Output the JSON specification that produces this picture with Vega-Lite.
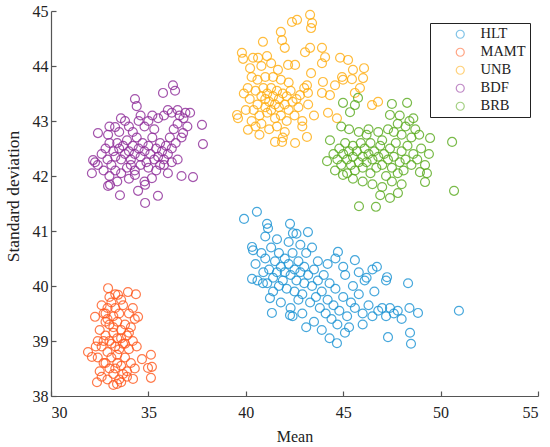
{
"$schema":"https://vega.github.io/schema/vega-lite/v6.json",
"width":487,"height":385,
"autosize":{"type":"none"},
"padding":{"left":51,"top":11,"right":12,"bottom":51},
"background":"white",
"config":{"view":{"stroke":null},
"axis":{"domainColor":"#555","tickColor":"#555","labelColor":"#222","titleColor":"#222","labelFont":"Liberation Serif","titleFont":"Liberation Serif","labelFontSize":16,"titleFontSize":17,"titleFontWeight":"normal","grid":false,"tickSize":-5,"domainWidth":1.2,"tickWidth":1.2}},
"data":{"values":[
{"g":"HLT","x":39.91,"y":41.22},{"g":"HLT","x":40.57,"y":41.35},{"g":"HLT","x":41.09,"y":41.13},{"g":"HLT","x":41.14,"y":41.05},{"g":"HLT","x":42.27,"y":41.13},{"g":"HLT","x":42.42,"y":40.96},{"g":"HLT","x":43.19,"y":40.98},{"g":"HLT","x":40.32,"y":40.71},{"g":"HLT","x":40.37,"y":40.65},{"g":"HLT","x":40.32,"y":40.13},{"g":"HLT","x":40.88,"y":40.05},{"g":"HLT","x":41.24,"y":39.78},{"g":"HLT","x":41.34,"y":39.51},{"g":"HLT","x":42.27,"y":39.47},{"g":"HLT","x":44.68,"y":38.96},{"g":"HLT","x":45.09,"y":39.15},{"g":"HLT","x":44.73,"y":40.62},{"g":"HLT","x":45.6,"y":40.47},{"g":"HLT","x":46.73,"y":40.35},{"g":"HLT","x":48.33,"y":40.05},{"g":"HLT","x":47.3,"y":39.07},{"g":"HLT","x":48.43,"y":39.15},{"g":"HLT","x":48.48,"y":38.95},{"g":"HLT","x":48.84,"y":39.51},{"g":"HLT","x":47.25,"y":40.16},{"g":"HLT","x":50.94,"y":39.55},{"g":"HLT","x":47.2,"y":40.1},
{"g":"HLT","x":40.5,"y":40.4},{"g":"HLT","x":40.8,"y":40.6},{"g":"HLT","x":40.9,"y":40.25},{"g":"HLT","x":41.0,"y":40.5},{"g":"HLT","x":41.2,"y":40.3},{"g":"HLT","x":41.3,"y":40.7},{"g":"HLT","x":41.4,"y":40.15},{"g":"HLT","x":41.5,"y":40.45},{"g":"HLT","x":41.6,"y":40.25},{"g":"HLT","x":41.7,"y":40.6},{"g":"HLT","x":41.8,"y":40.35},{"g":"HLT","x":41.9,"y":40.1},{"g":"HLT","x":42.0,"y":40.5},{"g":"HLT","x":42.0,"y":40.25},{"g":"HLT","x":42.1,"y":39.95},{"g":"HLT","x":42.2,"y":40.4},{"g":"HLT","x":42.3,"y":40.2},{"g":"HLT","x":42.4,"y":40.6},{"g":"HLT","x":42.5,"y":40.3},{"g":"HLT","x":42.5,"y":39.9},{"g":"HLT","x":42.6,"y":40.1},{"g":"HLT","x":42.7,"y":40.45},{"g":"HLT","x":42.8,"y":40.25},{"g":"HLT","x":42.9,"y":39.85},{"g":"HLT","x":43.0,"y":40.35},{"g":"HLT","x":43.0,"y":40.05},{"g":"HLT","x":43.1,"y":40.6},{"g":"HLT","x":43.2,"y":40.2},{"g":"HLT","x":43.3,"y":39.7},{"g":"HLT","x":43.4,"y":40.0},{"g":"HLT","x":43.5,"y":40.3},{"g":"HLT","x":43.6,"y":39.8},{"g":"HLT","x":43.7,"y":40.1},{"g":"HLT","x":43.8,"y":39.6},{"g":"HLT","x":43.9,"y":39.9},{"g":"HLT","x":44.0,"y":40.2},{"g":"HLT","x":44.1,"y":39.5},{"g":"HLT","x":44.2,"y":39.75},{"g":"HLT","x":44.3,"y":40.05},{"g":"HLT","x":44.4,"y":39.4},{"g":"HLT","x":44.5,"y":39.65},{"g":"HLT","x":44.6,"y":39.95},{"g":"HLT","x":44.7,"y":39.3},{"g":"HLT","x":44.8,"y":39.55},{"g":"HLT","x":45.0,"y":39.8},{"g":"HLT","x":45.1,"y":40.2},{"g":"HLT","x":45.2,"y":39.45},{"g":"HLT","x":45.4,"y":39.7},{"g":"HLT","x":45.5,"y":40.0},{"g":"HLT","x":45.6,"y":39.6},{"g":"HLT","x":45.8,"y":39.85},{"g":"HLT","x":46.0,"y":39.5},{"g":"HLT","x":46.1,"y":40.1},{"g":"HLT","x":46.3,"y":39.65},{"g":"HLT","x":46.5,"y":39.45},{"g":"HLT","x":46.6,"y":39.9},{"g":"HLT","x":46.8,"y":39.55},{"g":"HLT","x":47.0,"y":39.6},{"g":"HLT","x":47.2,"y":39.45},{"g":"HLT","x":47.4,"y":39.6},{"g":"HLT","x":47.6,"y":39.5},{"g":"HLT","x":47.8,"y":39.55},{"g":"HLT","x":48.0,"y":39.4},{"g":"HLT","x":48.4,"y":39.6},{"g":"HLT","x":41.6,"y":40.85},{"g":"HLT","x":42.2,"y":40.8},{"g":"HLT","x":42.8,"y":40.75},{"g":"HLT","x":43.4,"y":40.7},{"g":"HLT","x":41.0,"y":40.9},{"g":"HLT","x":42.6,"y":40.95},{"g":"HLT","x":41.4,"y":39.9},{"g":"HLT","x":41.8,"y":39.7},{"g":"HLT","x":42.3,"y":39.6},{"g":"HLT","x":42.9,"y":39.5},{"g":"HLT","x":43.5,"y":39.35},{"g":"HLT","x":41.1,"y":40.05},{"g":"HLT","x":40.6,"y":40.1},{"g":"HLT","x":43.7,"y":40.45},{"g":"HLT","x":44.2,"y":40.4},{"g":"HLT","x":44.6,"y":40.5},{"g":"HLT","x":45.0,"y":40.35},{"g":"HLT","x":45.8,"y":40.25},{"g":"HLT","x":46.2,"y":40.15},{"g":"HLT","x":46.5,"y":40.3},{"g":"HLT","x":42.4,"y":39.45},{"g":"HLT","x":43.1,"y":39.25},{"g":"HLT","x":43.9,"y":39.2},{"g":"HLT","x":44.3,"y":39.05},{"g":"HLT","x":45.3,"y":39.25},{"g":"HLT","x":46.0,"y":39.3},{"g":"HLT","x":42.7,"y":39.75},{"g":"HLT","x":41.7,"y":40.0},
{"g":"MAMT","x":32.93,"y":39.96},{"g":"MAMT","x":33.95,"y":39.89},{"g":"MAMT","x":34.36,"y":39.85},{"g":"MAMT","x":33.44,"y":39.84},{"g":"MAMT","x":32.26,"y":39.44},{"g":"MAMT","x":31.9,"y":38.8},{"g":"MAMT","x":32.1,"y":38.71},{"g":"MAMT","x":32.36,"y":38.25},{"g":"MAMT","x":33.39,"y":38.22},{"g":"MAMT","x":34.21,"y":38.31},{"g":"MAMT","x":34.67,"y":38.67},{"g":"MAMT","x":34.47,"y":39.44},{"g":"MAMT","x":35.13,"y":38.75},{"g":"MAMT","x":35.18,"y":38.53},{"g":"MAMT","x":35.13,"y":38.33},{"g":"MAMT","x":34.98,"y":38.51},
{"g":"MAMT","x":32.5,"y":39.2},{"g":"MAMT","x":32.6,"y":38.9},{"g":"MAMT","x":32.7,"y":39.5},{"g":"MAMT","x":32.7,"y":38.6},{"g":"MAMT","x":32.8,"y":39.1},{"g":"MAMT","x":32.8,"y":39.35},{"g":"MAMT","x":32.9,"y":38.8},{"g":"MAMT","x":32.9,"y":39.6},{"g":"MAMT","x":33.0,"y":39.0},{"g":"MAMT","x":33.0,"y":38.5},{"g":"MAMT","x":33.0,"y":39.3},{"g":"MAMT","x":33.1,"y":39.7},{"g":"MAMT","x":33.1,"y":38.7},{"g":"MAMT","x":33.2,"y":39.15},{"g":"MAMT","x":33.2,"y":38.4},{"g":"MAMT","x":33.2,"y":39.45},{"g":"MAMT","x":33.3,"y":38.9},{"g":"MAMT","x":33.3,"y":39.6},{"g":"MAMT","x":33.4,"y":39.05},{"g":"MAMT","x":33.4,"y":38.6},{"g":"MAMT","x":33.4,"y":39.35},{"g":"MAMT","x":33.5,"y":38.3},{"g":"MAMT","x":33.5,"y":38.85},{"g":"MAMT","x":33.5,"y":39.5},{"g":"MAMT","x":33.6,"y":39.2},{"g":"MAMT","x":33.6,"y":38.55},{"g":"MAMT","x":33.7,"y":38.95},{"g":"MAMT","x":33.7,"y":39.65},{"g":"MAMT","x":33.8,"y":39.3},{"g":"MAMT","x":33.8,"y":38.7},{"g":"MAMT","x":33.9,"y":39.1},{"g":"MAMT","x":33.9,"y":38.45},{"g":"MAMT","x":34.0,"y":39.5},{"g":"MAMT","x":34.0,"y":38.85},{"g":"MAMT","x":34.1,"y":39.25},{"g":"MAMT","x":34.1,"y":38.6},{"g":"MAMT","x":34.2,"y":39.0},{"g":"MAMT","x":34.3,"y":39.4},{"g":"MAMT","x":32.4,"y":38.7},{"g":"MAMT","x":32.5,"y":38.45},{"g":"MAMT","x":32.6,"y":39.65},{"g":"MAMT","x":32.4,"y":39.0},{"g":"MAMT","x":32.3,"y":38.9},{"g":"MAMT","x":32.6,"y":38.35},{"g":"MAMT","x":32.9,"y":38.3},{"g":"MAMT","x":33.2,"y":38.2},{"g":"MAMT","x":33.6,"y":38.25},{"g":"MAMT","x":33.9,"y":38.35},{"g":"MAMT","x":34.3,"y":38.5},{"g":"MAMT","x":34.4,"y":38.9},{"g":"MAMT","x":34.2,"y":39.6},{"g":"MAMT","x":33.0,"y":39.8},{"g":"MAMT","x":33.3,"y":39.85},{"g":"MAMT","x":32.8,"y":39.5},{"g":"MAMT","x":33.6,"y":39.75},{"g":"MAMT","x":32.9,"y":39.4},{"g":"MAMT","x":33.4,"y":38.75},{"g":"MAMT","x":33.1,"y":38.95},{"g":"MAMT","x":33.6,"y":39.05},{"g":"MAMT","x":33.2,"y":39.25},{"g":"MAMT","x":33.8,"y":38.95},{"g":"MAMT","x":32.7,"y":39.0},{"g":"MAMT","x":34.0,"y":39.15},{"g":"MAMT","x":33.3,"y":38.5},{"g":"MAMT","x":33.7,"y":38.4},{"g":"MAMT","x":32.8,"y":38.6},
{"g":"UNB","x":43.3,"y":44.93},{"g":"UNB","x":42.63,"y":44.84},{"g":"UNB","x":42.37,"y":44.8},{"g":"UNB","x":43.35,"y":44.69},{"g":"UNB","x":43.4,"y":44.78},{"g":"UNB","x":41.8,"y":44.62},{"g":"UNB","x":41.86,"y":44.47},{"g":"UNB","x":42.0,"y":44.33},{"g":"UNB","x":40.88,"y":44.44},{"g":"UNB","x":39.8,"y":44.24},{"g":"UNB","x":39.86,"y":44.13},{"g":"UNB","x":40.37,"y":44.15},{"g":"UNB","x":40.63,"y":44.15},{"g":"UNB","x":41.09,"y":44.18},{"g":"UNB","x":43.04,"y":44.25},{"g":"UNB","x":43.3,"y":44.33},{"g":"UNB","x":43.91,"y":44.33},{"g":"UNB","x":44.07,"y":44.16},{"g":"UNB","x":43.91,"y":44.05},{"g":"UNB","x":44.84,"y":44.15},{"g":"UNB","x":45.25,"y":44.11},{"g":"UNB","x":46.07,"y":43.96},{"g":"UNB","x":45.5,"y":43.93},{"g":"UNB","x":46.02,"y":43.78},{"g":"UNB","x":45.45,"y":43.76},{"g":"UNB","x":44.99,"y":43.75},{"g":"UNB","x":44.58,"y":43.65},{"g":"UNB","x":43.96,"y":43.71},{"g":"UNB","x":43.35,"y":43.87},{"g":"UNB","x":42.53,"y":44.02},{"g":"UNB","x":42.17,"y":44.02},{"g":"UNB","x":41.65,"y":43.93},{"g":"UNB","x":40.22,"y":43.96},{"g":"UNB","x":45.86,"y":43.6},{"g":"UNB","x":45.6,"y":43.51},{"g":"UNB","x":46.48,"y":43.29},{"g":"UNB","x":46.79,"y":43.35},{"g":"UNB","x":44.22,"y":43.15},{"g":"UNB","x":44.68,"y":43.05},{"g":"UNB","x":43.14,"y":42.71},{"g":"UNB","x":42.53,"y":42.6},{"g":"UNB","x":41.86,"y":42.62},{"g":"UNB","x":41.5,"y":42.62},{"g":"UNB","x":40.11,"y":42.84},{"g":"UNB","x":39.55,"y":43.11},{"g":"UNB","x":39.6,"y":43.05},{"g":"UNB","x":43.14,"y":43.65},{"g":"UNB","x":42.78,"y":43.47},{"g":"UNB","x":43.19,"y":43.51},{"g":"UNB","x":43.91,"y":43.51},{"g":"UNB","x":44.32,"y":43.47},{"g":"UNB","x":44.94,"y":43.8},
{"g":"UNB","x":40.2,"y":43.4},{"g":"UNB","x":40.4,"y":43.2},{"g":"UNB","x":40.5,"y":43.55},{"g":"UNB","x":40.6,"y":43.3},{"g":"UNB","x":40.7,"y":43.1},{"g":"UNB","x":40.8,"y":43.45},{"g":"UNB","x":40.9,"y":43.6},{"g":"UNB","x":41.0,"y":43.25},{"g":"UNB","x":41.0,"y":43.4},{"g":"UNB","x":41.1,"y":43.5},{"g":"UNB","x":41.1,"y":43.15},{"g":"UNB","x":41.2,"y":43.35},{"g":"UNB","x":41.3,"y":43.6},{"g":"UNB","x":41.3,"y":43.2},{"g":"UNB","x":41.4,"y":43.45},{"g":"UNB","x":41.5,"y":43.3},{"g":"UNB","x":41.5,"y":43.05},{"g":"UNB","x":41.6,"y":43.55},{"g":"UNB","x":41.7,"y":43.25},{"g":"UNB","x":41.7,"y":43.4},{"g":"UNB","x":41.8,"y":43.1},{"g":"UNB","x":41.9,"y":43.5},{"g":"UNB","x":42.0,"y":43.3},{"g":"UNB","x":42.1,"y":43.0},{"g":"UNB","x":42.1,"y":43.45},{"g":"UNB","x":42.2,"y":43.2},{"g":"UNB","x":42.3,"y":43.55},{"g":"UNB","x":42.4,"y":43.35},{"g":"UNB","x":42.5,"y":43.1},{"g":"UNB","x":42.6,"y":43.4},{"g":"UNB","x":42.7,"y":43.25},{"g":"UNB","x":40.3,"y":43.0},{"g":"UNB","x":40.5,"y":42.9},{"g":"UNB","x":40.8,"y":42.95},{"g":"UNB","x":41.2,"y":42.85},{"g":"UNB","x":41.6,"y":42.9},{"g":"UNB","x":42.0,"y":42.8},{"g":"UNB","x":40.0,"y":43.2},{"g":"UNB","x":40.1,"y":43.6},{"g":"UNB","x":40.6,"y":43.75},{"g":"UNB","x":41.0,"y":43.8},{"g":"UNB","x":41.4,"y":43.8},{"g":"UNB","x":41.8,"y":43.75},{"g":"UNB","x":42.2,"y":43.7},{"g":"UNB","x":40.3,"y":43.8},{"g":"UNB","x":40.8,"y":44.0},{"g":"UNB","x":41.3,"y":44.05},{"g":"UNB","x":39.9,"y":43.5},{"g":"UNB","x":42.9,"y":43.0},{"g":"UNB","x":43.2,"y":43.3},{"g":"UNB","x":43.5,"y":43.1},{"g":"UNB","x":43.0,"y":43.6},{"g":"UNB","x":42.9,"y":42.9},{"g":"UNB","x":41.9,"y":42.7},{"g":"UNB","x":40.7,"y":42.75},
{"g":"BDF","x":36.26,"y":43.65},{"g":"BDF","x":36.37,"y":43.55},{"g":"BDF","x":35.75,"y":43.51},{"g":"BDF","x":34.31,"y":43.4},{"g":"BDF","x":34.4,"y":43.27},{"g":"BDF","x":32.41,"y":42.78},{"g":"BDF","x":32.16,"y":42.29},{"g":"BDF","x":32.1,"y":42.05},{"g":"BDF","x":33.54,"y":41.65},{"g":"BDF","x":34.83,"y":41.51},{"g":"BDF","x":35.49,"y":41.64},{"g":"BDF","x":37.29,"y":41.98},{"g":"BDF","x":37.75,"y":42.93},{"g":"BDF","x":37.8,"y":42.58},{"g":"BDF","x":37.14,"y":43.15},{"g":"BDF","x":34.47,"y":41.73},{"g":"BDF","x":32.93,"y":41.82},{"g":"BDF","x":32.26,"y":42.25},{"g":"BDF","x":32.93,"y":42.75},{"g":"BDF","x":33.29,"y":42.89},{"g":"BDF","x":33.59,"y":43.05},{"g":"BDF","x":36.78,"y":42.78},{"g":"BDF","x":36.7,"y":42.0},{"g":"BDF","x":34.83,"y":41.84},{"g":"BDF","x":35.18,"y":41.96},{"g":"BDF","x":33.03,"y":41.84},{"g":"BDF","x":34.31,"y":42.02},
{"g":"BDF","x":32.6,"y":42.4},{"g":"BDF","x":32.8,"y":42.5},{"g":"BDF","x":32.9,"y":42.3},{"g":"BDF","x":33.0,"y":42.6},{"g":"BDF","x":33.1,"y":42.2},{"g":"BDF","x":33.2,"y":42.45},{"g":"BDF","x":33.3,"y":42.35},{"g":"BDF","x":33.4,"y":42.6},{"g":"BDF","x":33.5,"y":42.5},{"g":"BDF","x":33.6,"y":42.3},{"g":"BDF","x":33.7,"y":42.55},{"g":"BDF","x":33.8,"y":42.4},{"g":"BDF","x":33.9,"y":42.65},{"g":"BDF","x":34.0,"y":42.45},{"g":"BDF","x":34.1,"y":42.3},{"g":"BDF","x":34.2,"y":42.55},{"g":"BDF","x":34.3,"y":42.4},{"g":"BDF","x":34.4,"y":42.7},{"g":"BDF","x":34.5,"y":42.5},{"g":"BDF","x":34.6,"y":42.35},{"g":"BDF","x":34.7,"y":42.6},{"g":"BDF","x":34.8,"y":42.45},{"g":"BDF","x":34.9,"y":42.25},{"g":"BDF","x":35.0,"y":42.55},{"g":"BDF","x":35.1,"y":42.4},{"g":"BDF","x":35.2,"y":42.7},{"g":"BDF","x":35.3,"y":42.3},{"g":"BDF","x":35.4,"y":42.5},{"g":"BDF","x":35.5,"y":42.35},{"g":"BDF","x":35.6,"y":42.6},{"g":"BDF","x":35.7,"y":42.45},{"g":"BDF","x":35.8,"y":42.3},{"g":"BDF","x":35.9,"y":42.55},{"g":"BDF","x":36.0,"y":42.4},{"g":"BDF","x":36.1,"y":42.7},{"g":"BDF","x":36.2,"y":42.5},{"g":"BDF","x":36.3,"y":42.85},{"g":"BDF","x":36.4,"y":42.6},{"g":"BDF","x":36.5,"y":42.95},{"g":"BDF","x":36.6,"y":43.1},{"g":"BDF","x":36.7,"y":42.7},{"g":"BDF","x":36.8,"y":43.05},{"g":"BDF","x":36.9,"y":43.15},{"g":"BDF","x":37.0,"y":42.9},{"g":"BDF","x":33.8,"y":43.0},{"g":"BDF","x":34.0,"y":42.9},{"g":"BDF","x":34.5,"y":43.0},{"g":"BDF","x":34.6,"y":43.1},{"g":"BDF","x":34.8,"y":42.9},{"g":"BDF","x":35.0,"y":43.0},{"g":"BDF","x":35.3,"y":42.85},{"g":"BDF","x":35.5,"y":43.05},{"g":"BDF","x":35.8,"y":43.1},{"g":"BDF","x":36.0,"y":43.2},{"g":"BDF","x":36.2,"y":43.15},{"g":"BDF","x":36.5,"y":43.2},{"g":"BDF","x":35.2,"y":43.1},{"g":"BDF","x":34.2,"y":42.8},{"g":"BDF","x":33.5,"y":42.8},{"g":"BDF","x":33.0,"y":42.9},{"g":"BDF","x":32.4,"y":42.2},{"g":"BDF","x":32.7,"y":42.1},{"g":"BDF","x":33.0,"y":42.0},{"g":"BDF","x":33.3,"y":42.1},{"g":"BDF","x":33.6,"y":42.05},{"g":"BDF","x":33.9,"y":42.15},{"g":"BDF","x":34.3,"y":42.1},{"g":"BDF","x":34.6,"y":42.2},{"g":"BDF","x":35.0,"y":42.15},{"g":"BDF","x":35.4,"y":42.1},{"g":"BDF","x":35.8,"y":42.2},{"g":"BDF","x":36.2,"y":42.25},{"g":"BDF","x":36.5,"y":42.3},{"g":"BDF","x":34.0,"y":41.95},{"g":"BDF","x":34.8,"y":41.9},{"g":"BDF","x":33.4,"y":41.9},{"g":"BDF","x":36.0,"y":42.05},{"g":"BDF","x":34.1,"y":42.2},{"g":"BDF","x":35.6,"y":42.2},
{"g":"BRB","x":48.28,"y":43.33},{"g":"BRB","x":47.5,"y":43.31},{"g":"BRB","x":47.4,"y":43.11},{"g":"BRB","x":50.59,"y":42.62},{"g":"BRB","x":50.69,"y":41.73},{"g":"BRB","x":45.81,"y":41.45},{"g":"BRB","x":46.68,"y":41.44},{"g":"BRB","x":44.32,"y":42.65},{"g":"BRB","x":44.17,"y":42.27},{"g":"BRB","x":44.58,"y":42.1},{"g":"BRB","x":44.99,"y":42.02},{"g":"BRB","x":49.2,"y":41.89},{"g":"BRB","x":48.94,"y":42.07},{"g":"BRB","x":49.46,"y":42.69},{"g":"BRB","x":47.81,"y":41.69},{"g":"BRB","x":44.99,"y":43.33},{"g":"BRB","x":45.6,"y":43.29},{"g":"BRB","x":45.76,"y":43.42},{"g":"BRB","x":45.35,"y":43.16},
{"g":"BRB","x":44.5,"y":42.4},{"g":"BRB","x":44.7,"y":42.3},{"g":"BRB","x":44.8,"y":42.5},{"g":"BRB","x":44.9,"y":42.2},{"g":"BRB","x":45.0,"y":42.4},{"g":"BRB","x":45.1,"y":42.6},{"g":"BRB","x":45.2,"y":42.3},{"g":"BRB","x":45.3,"y":42.45},{"g":"BRB","x":45.4,"y":42.2},{"g":"BRB","x":45.5,"y":42.55},{"g":"BRB","x":45.5,"y":42.35},{"g":"BRB","x":45.6,"y":42.1},{"g":"BRB","x":45.7,"y":42.45},{"g":"BRB","x":45.8,"y":42.25},{"g":"BRB","x":45.9,"y":42.6},{"g":"BRB","x":46.0,"y":42.35},{"g":"BRB","x":46.0,"y":42.15},{"g":"BRB","x":46.1,"y":42.5},{"g":"BRB","x":46.2,"y":42.25},{"g":"BRB","x":46.3,"y":42.4},{"g":"BRB","x":46.4,"y":42.05},{"g":"BRB","x":46.4,"y":42.6},{"g":"BRB","x":46.5,"y":42.3},{"g":"BRB","x":46.6,"y":42.45},{"g":"BRB","x":46.7,"y":42.15},{"g":"BRB","x":46.8,"y":42.35},{"g":"BRB","x":46.9,"y":42.55},{"g":"BRB","x":47.0,"y":42.2},{"g":"BRB","x":47.1,"y":42.4},{"g":"BRB","x":47.2,"y":42.0},{"g":"BRB","x":47.3,"y":42.3},{"g":"BRB","x":47.4,"y":42.5},{"g":"BRB","x":47.5,"y":42.15},{"g":"BRB","x":47.6,"y":42.35},{"g":"BRB","x":47.7,"y":42.6},{"g":"BRB","x":47.8,"y":42.05},{"g":"BRB","x":47.9,"y":42.25},{"g":"BRB","x":48.0,"y":42.45},{"g":"BRB","x":48.1,"y":42.1},{"g":"BRB","x":48.2,"y":42.3},{"g":"BRB","x":48.3,"y":42.55},{"g":"BRB","x":48.5,"y":42.2},{"g":"BRB","x":48.6,"y":42.4},{"g":"BRB","x":48.8,"y":42.3},{"g":"BRB","x":49.0,"y":42.5},{"g":"BRB","x":49.2,"y":42.2},{"g":"BRB","x":47.6,"y":42.8},{"g":"BRB","x":47.8,"y":42.95},{"g":"BRB","x":48.0,"y":42.75},{"g":"BRB","x":48.2,"y":42.9},{"g":"BRB","x":48.4,"y":43.0},{"g":"BRB","x":48.5,"y":42.7},{"g":"BRB","x":48.7,"y":42.85},{"g":"BRB","x":48.9,"y":42.75},{"g":"BRB","x":47.9,"y":43.1},{"g":"BRB","x":48.6,"y":43.05},{"g":"BRB","x":47.3,"y":42.85},{"g":"BRB","x":46.8,"y":42.8},{"g":"BRB","x":46.3,"y":42.85},{"g":"BRB","x":45.8,"y":42.8},{"g":"BRB","x":45.3,"y":42.85},{"g":"BRB","x":44.9,"y":42.9},{"g":"BRB","x":46.0,"y":41.9},{"g":"BRB","x":46.5,"y":41.85},{"g":"BRB","x":47.0,"y":41.8},{"g":"BRB","x":47.5,"y":41.9},{"g":"BRB","x":48.0,"y":41.85},{"g":"BRB","x":45.5,"y":41.95},{"g":"BRB","x":46.9,"y":41.65},{"g":"BRB","x":47.4,"y":41.6},{"g":"BRB","x":45.2,"y":42.05},{"g":"BRB","x":49.4,"y":42.4},{"g":"BRB","x":49.3,"y":42.05},{"g":"BRB","x":46.2,"y":42.75},{"g":"BRB","x":47.0,"y":42.65}
]},
"mark":{"type":"point","shape":"circle","filled":false,"size":80,"strokeWidth":1.2,"opacity":0.8},
"encoding":{
"x":{"field":"x","type":"quantitative","title":"Mean","scale":{"domain":[30,55],"nice":false,"zero":false},"axis":{"values":[30,35,40,45,50,55],"labelPadding":13,"titlePadding":8,"titleFontSize":16}},
"y":{"field":"y","type":"quantitative","title":"Standard deviation","scale":{"domain":[38,45],"nice":false,"zero":false},"axis":{"values":[38,39,40,41,42,43,44,45],"labelPadding":8,"titlePadding":10,"titleFontSize":17.5,"titleY":185}},
"color":{"field":"g","type":"nominal","sort":["HLT","MAMT","UNB","BDF","BRB"],
"scale":{"domain":["HLT","MAMT","UNB","BDF","BRB"],"range":["#1a93d4","#ff5a1f","#ffad0f","#8e2c99","#5aab1e"]},
"legend":{"title":null,"orient":"none","legendX":379,"legendY":12,"strokeColor":"#222","fillColor":"white","padding":4,"symbolType":"circle","symbolSize":64,"symbolStrokeWidth":1.2,"symbolOpacity":0.55,"symbolOffset":19,"labelOffset":13,"labelFont":"Liberation Serif","labelFontSize":14.5,"labelColor":"#222","rowPadding":3,"symbolFillColor":"transparent"}}
}
}
